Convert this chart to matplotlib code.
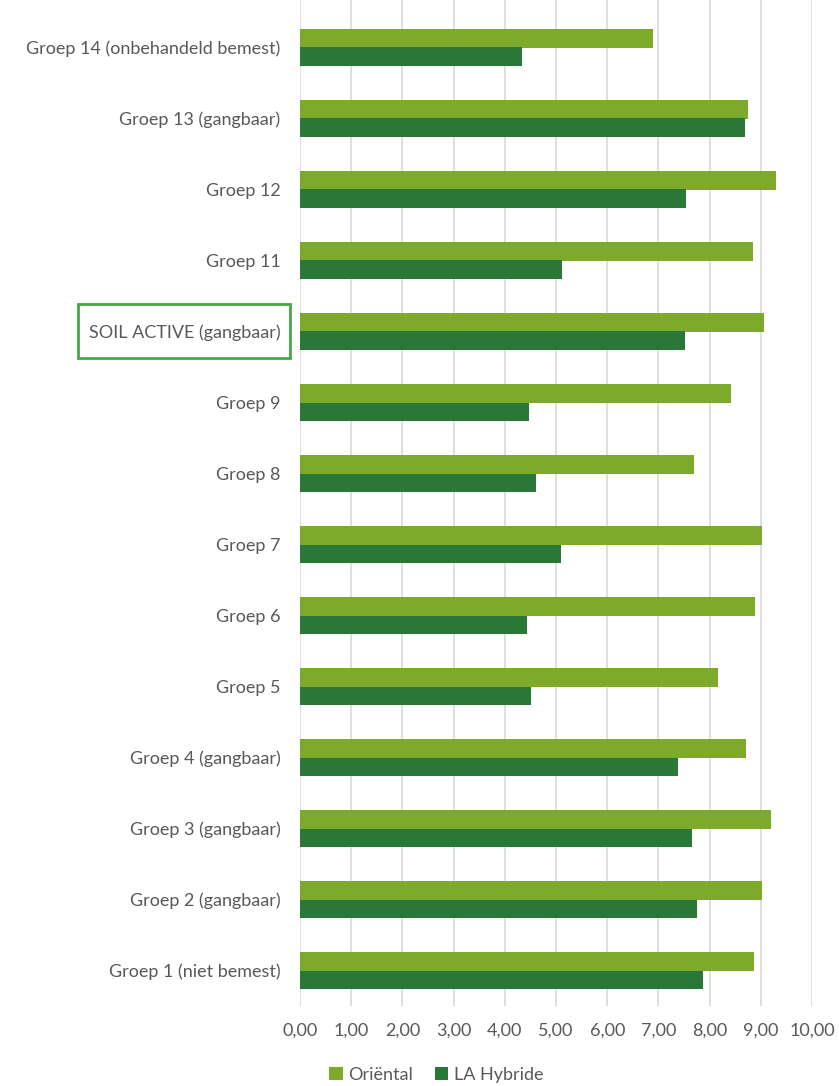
import matplotlib.pyplot as plt
import numpy as np
from matplotlib.patches import Rectangle

plt.rcParams['font.family'] = ['Lato', 'DejaVu Sans']

# categories bottom to top
groepen = ["Groep 1 (niet bemest)", "Groep 2 (gangbaar)", "Groep 3 (gangbaar)",
           "Groep 4 (gangbaar)", "Groep 5", "Groep 6", "Groep 7", "Groep 8",
           "Groep 9", "SOIL ACTIVE (gangbaar)", "Groep 11", "Groep 12",
           "Groep 13 (gangbaar)", "Groep 14 (onbehandeld bemest)"]
oriental = [8.87, 9.03, 9.19, 8.71, 8.16, 8.88, 9.03, 7.70, 8.42, 9.06, 8.84, 9.30, 8.75, 6.90]
la_hybride = [7.88, 7.76, 7.65, 7.39, 4.52, 4.43, 5.10, 4.60, 4.47, 7.51, 5.11, 7.54, 8.70, 4.33]
xticks = np.arange(0, 11, 1)

c_or = '#7EAA2C'
c_la = '#2A7838'
tekst = '#595959'
fs = 13

fig = plt.figure(figsize=(8.39, 10.86), dpi=100)
# axes runs to the top edge, like the gridlines in the original
ax = fig.add_axes([300/839, 1 - 1006/1086, 512/839, 1006/1086])

y = np.arange(len(groepen))
h = 0.255
ax.barh(y + h/2, oriental, height=h, color=c_or, label='Oriëntal', zorder=3)
ax.barh(y - h/2, la_hybride, height=h, color=c_la, label='LA Hybride', zorder=3)

ax.set_xlim(0, 10)
ax.set_ylim(-0.5, len(groepen) - 0.5 + 12/71)
ax.set_xticks(xticks)
ax.set_xticklabels([('%.2f' % v).replace('.', ',') for v in xticks], color=tekst, fontsize=fs)
ax.set_yticks(y)
ax.set_yticklabels(groepen, color=tekst, fontsize=fs)
ax.tick_params(length=0)
ax.tick_params(axis='y', pad=14)
ax.tick_params(axis='x', pad=12)
ax.grid(axis='x', color='#D9D9D9', linewidth=1.2, zorder=0)
for s in ax.spines.values():
    s.set_visible(False)

# box around SOIL ACTIVE label
fig.patches.append(Rectangle((78/839, 1 - 358/1086), 212/839, 54/1086,
                             transform=fig.transFigure, fill=False,
                             edgecolor='#43A843', linewidth=2))

fig.legend(loc='center', bbox_to_anchor=(0.52, 1 - 1075/1086), ncol=2, frameon=False,
           fontsize=fs, handlelength=0.75, handleheight=0.75, handletextpad=0.3,
           columnspacing=1.2, labelcolor=tekst)

fig.savefig('out.png', dpi=100)
